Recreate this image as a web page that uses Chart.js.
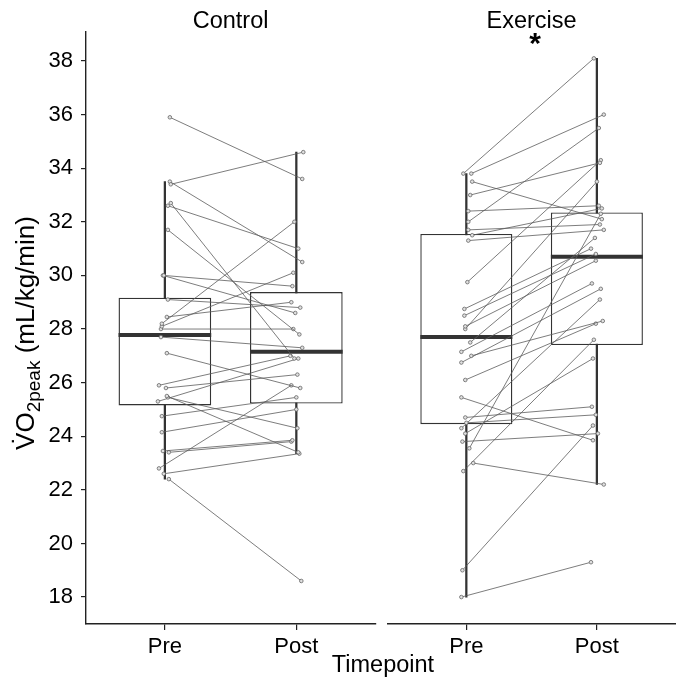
<!DOCTYPE html>
<html>
<head>
<meta charset="utf-8">
<script src="https://cdn.jsdelivr.net/npm/chart.js@4.4.1/dist/chart.umd.min.js"></script>
<style>
  html, body { margin: 0; padding: 0; background: #fff; width: 676px; height: 691px; overflow: hidden; }
  #wrap { position: relative; width: 676px; height: 691px; overflow: hidden; font-family: "Liberation Sans", Arial, sans-serif; color: #000; }
  #c1 { position: absolute; left: 0; top: 0; }
  #c2 { position: absolute; left: 380px; top: 0; }
  .lbl { position: absolute; white-space: nowrap; text-align: center; }
  #ytitle { left: -135px; top: 319px; width: 320px; height: 28px; line-height: 28px; font-size: 26px; transform: rotate(-90deg); transform-origin: 50% 50%; }
  #ytitle .sub { font-size: 19px; position: relative; top: 6px; }
  #xtitle { left: 233px; top: 650px; width: 300px; height: 28px; line-height: 28px; font-size: 23.5px; }
  #star { left: 505px; top: 26px; width: 60px; height: 34px; line-height: 34px; font-size: 30px; font-weight: bold; }
</style>
</head>
<body>
<div id="wrap">
  <canvas id="c1" width="380" height="691"></canvas>
  <canvas id="c2" width="300" height="691"></canvas>
  <div id="ytitle" class="lbl">V&#775;O<span class="sub">2peak</span> (mL/kg/min)</div>
  <div id="xtitle" class="lbl">Timepoint</div>
  <div id="star" class="lbl">*</div>
</div>
<script>
const FONT = '"Liberation Sans", Arial, sans-serif';

// ---- data ----
const timepoints = ['Pre', 'Post'];
const facets = ['Control', 'Exercise'];
const yTicks = [18, 20, 22, 24, 26, 28, 30, 32, 34, 36, 38];

// paired individual values (index i = same participant)
const controlPre  = [35.9, 33.4, 33.5, 32.6, 32.7, 31.7, 30.0, 30.0, 28.2, 28.1, 29.1, 28.45, 28.0, 27.7, 27.1, 25.9, 25.8, 25.5, 25.45, 25.3, 24.75, 24.15, 23.45, 23.4, 22.8, 22.6, 22.4];
const controlPost = [33.6, 34.6, 30.5, 31.0, 26.9, 27.8, 29.6, 28.6, 32.0, 30.1, 28.8, 29.0, 28.0, 27.3, 25.8, 27.0, 26.3, 23.4, 24.3, 26.9, 25.45, 25.0, 23.85, 23.8, 25.9, 23.35, 18.6];
const controlPreJitter  = [0.038, 0.045, 0.038, 0.023, 0.045, 0.023, -0.008, -0.015, -0.023, -0.023, 0.023, 0.015, -0.030, -0.030, 0.015, -0.045, 0.008, 0.015, 0.023, -0.053, -0.023, -0.023, -0.015, 0.030, -0.045, -0.008, 0.030];
const controlPostJitter = [0.045, 0.053, 0.045, 0.015, -0.015, 0.023, -0.030, -0.008, -0.015, -0.023, 0.030, -0.038, -0.023, 0.045, 0.030, -0.045, 0.008, 0.015, 0.008, 0.015, 0, 0, -0.030, -0.038, -0.038, 0.023, 0.038];

const exercisePre  = [33.8, 33.8, 33.5, 33.0, 32.4, 32.0, 31.7, 31.5, 31.3, 29.75, 28.75, 28.5, 28.1, 28.0, 27.5, 27.15, 27.0, 26.75, 26.1, 25.45, 24.7, 24.5, 24.3, 24.1, 23.8, 23.55, 23.0, 22.7, 19.0, 18.0];
const exercisePost = [38.1, 36.0, 32.1, 34.2, 32.6, 35.5, 31.9, 32.5, 31.7, 34.3, 31.0, 30.8, 30.55, 33.5, 31.4, 29.7, 28.3, 29.5, 28.2, 23.85, 25.1, 24.8, 29.1, 26.9, 24.1, 32.3, 22.2, 27.6, 24.4, 19.3];
const exercisePreJitter  = [-0.023, 0.038, 0.045, 0.030, 0.015, 0.015, 0.015, 0.045, 0.015, 0.008, -0.015, -0.015, -0.008, -0.008, 0.030, -0.038, 0.038, -0.038, -0.008, -0.038, -0.008, 0, -0.038, -0.008, -0.030, 0.023, 0.053, -0.023, -0.030, -0.038];
const exercisePostJitter = [-0.023, 0.053, 0.038, 0.023, 0.015, 0.015, 0.023, 0.038, 0.053, 0.030, -0.045, -0.008, -0.008, 0, -0.015, -0.038, 0.045, 0.030, -0.008, -0.030, -0.038, -0.008, 0.023, -0.030, 0.008, 0.030, 0.053, -0.023, -0.030, -0.045];

// box-plot statistics [Pre, Post]
const controlQ1 = [25.15, 25.22];
const controlMedian = [27.78, 27.15];
const controlQ3 = [29.17, 29.38];
const controlWhiskerLow = [22.4, 23.35];
const controlWhiskerHigh = [33.5, 34.6];

const exerciseQ1 = [24.45, 27.4];
const exerciseMedian = [27.7, 30.7];
const exerciseQ3 = [31.55, 32.35];
const exerciseWhiskerLow = [18.0, 22.2];
const exerciseWhiskerHigh = [33.8, 38.1];

const yMin = 16.995, yMax = 39.105;

// ---- drawing ----
const medianPlugin = {
  id: 'medianLine',
  afterDatasetDraw(chart, args) {
    const ds = chart.data.datasets[args.index];
    if (ds.label !== 'box') return;
    const ctx = chart.ctx, ys = chart.scales.y;
    ctx.save();
    ctx.strokeStyle = '#333';
    ctx.lineWidth = 4;
    args.meta.data.forEach((el, i) => {
      const py = ys.getPixelForValue(ds.medians[i]);
      ctx.beginPath();
      ctx.moveTo(el.x - el.width / 2, py);
      ctx.lineTo(el.x + el.width / 2, py);
      ctx.stroke();
    });
    ctx.restore();
  }
};

function makePanel(id, name, pre, post, preJ, postJ, q1, med, q3, wlo, whi, showY, padL, padR) {
  const datasets = [];
  pre.forEach((v, i) => {
    datasets.push({
      type: 'line',
      data: [{ x: 1 + preJ[i], y: v }, { x: 2 + postJ[i], y: post[i] }],
      borderColor: '#5c5c5c',
      borderWidth: 0.8,
      pointRadius: 1.8,
      pointBorderColor: '#666',
      pointBackgroundColor: '#e0e0e0',
      pointBorderWidth: 0.8,
      tension: 0,
      order: 1
    });
  });
  datasets.push({
    type: 'bar',
    label: 'box',
    medians: med,
    data: timepoints.map((t, i) => ({ x: i + 1, y: [q1[i], q3[i]] })),
    backgroundColor: '#ffffff',
    borderColor: '#333',
    borderWidth: 1.4,
    borderSkipped: false,
    grouped: false,
    categoryPercentage: 1,
    barPercentage: 0.705,
    order: 3
  });
  datasets.push({
    type: 'bar',
    label: 'whisker',
    data: timepoints.map((t, i) => ({ x: i + 1, y: [wlo[i], whi[i]] })),
    backgroundColor: '#333',
    borderWidth: 0,
    grouped: false,
    barThickness: 1.6,
    order: 4
  });

  return new Chart(document.getElementById(id), {
    type: 'bar',
    data: { datasets },
    plugins: [medianPlugin],
    options: {
      responsive: false,
      animation: false,
      layout: { padding: { left: padL, right: padR, top: 0, bottom: 0 } },
      plugins: {
        legend: { display: false },
        tooltip: { enabled: false },
        title: {
          display: true,
          text: name,
          fullSize: false,
          color: '#000',
          font: { family: FONT, size: 23.5, weight: 'normal', lineHeight: 0.7 },
          padding: { top: 13.5, bottom: 1.45 }
        }
      },
      scales: {
        x: {
          type: 'linear',
          min: 0.4, max: 2.6,
          offset: false,
          afterBuildTicks: (s) => { s.ticks = timepoints.map((t, i) => ({ value: i + 1 })); },
          afterFit: (s) => { s.height = 67; },
          border: { display: true, color: '#222', width: 1.4 },
          grid: { display: true, drawOnChartArea: false, drawTicks: true, tickLength: 6, color: '#222', lineWidth: 1.2, offset: false },
          ticks: {
            callback: (v, i) => timepoints[i],
            color: '#000',
            font: { family: FONT, size: 22 },
            padding: 4,
            maxRotation: 0,
            autoSkip: false
          }
        },
        y: {
          type: 'linear',
          display: showY,
          min: yMin, max: yMax,
          afterBuildTicks: (s) => { s.ticks = yTicks.map(v => ({ value: v })); },
          afterFit: (s) => { s.width = showY ? 86 : 0; },
          border: { display: true, color: '#222', width: 1.4 },
          grid: { display: true, drawOnChartArea: false, drawTicks: true, tickLength: 5, color: '#222', lineWidth: 1.2 },
          ticks: { color: '#000', font: { family: FONT, size: 22 }, padding: 8 }
        }
      }
    }
  });
}

makePanel('c1', facets[0], controlPre, controlPost, controlPreJitter, controlPostJitter,
  controlQ1, controlMedian, controlQ3, controlWhiskerLow, controlWhiskerHigh, true, 0, 2);
makePanel('c2', facets[1], exercisePre, exercisePost, exercisePreJitter, exercisePostJitter,
  exerciseQ1, exerciseMedian, exerciseQ3, exerciseWhiskerLow, exerciseWhiskerHigh, false, 8, 0);
</script>
</body>
</html>
